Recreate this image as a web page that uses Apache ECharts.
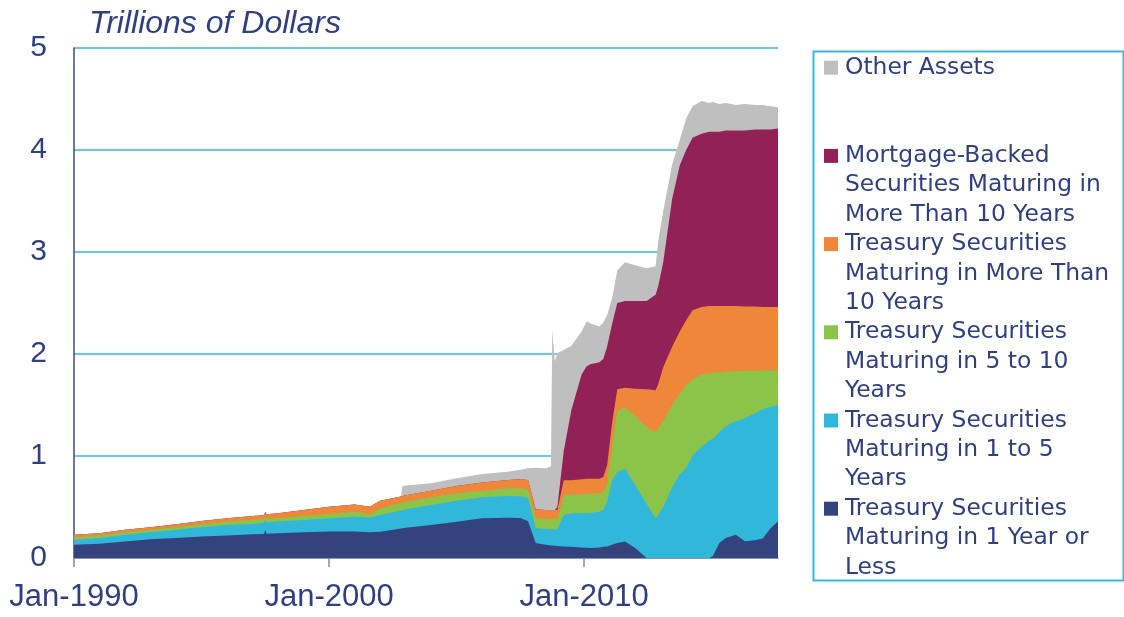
<!DOCTYPE html>
<html>
<head>
<meta charset="utf-8">
<script src="https://cdn.jsdelivr.net/npm/echarts@6/dist/echarts.min.js"></script>
<style>html,body{margin:0;padding:0;background:#fff}#chart{width:1124px;height:617px}</style>
</head>
<body>
<div id="chart"></div>
<script>
// ---- Data (trillions of dollars, decimal years) ----
const dates = [1990.0, 1991.0, 1992.0, 1993.0, 1994.0, 1995.0, 1996.0, 1997.0, 1997.45, 1997.5, 1997.55, 1998.0, 1999.0, 2000.0, 2001.0, 2001.6, 2002.0, 2002.82, 2002.87, 2003.0, 2004.0, 2005.0, 2006.0, 2007.0, 2007.5, 2007.8, 2008.1, 2008.5, 2008.7, 2008.75, 2008.85, 2008.95, 2009.2, 2009.5, 2009.9, 2010.1, 2010.25, 2010.6, 2010.75, 2010.9, 2011.1, 2011.3, 2011.6, 2012.0, 2012.45, 2012.8, 2012.9, 2013.1, 2013.45, 2013.75, 2014.0, 2014.25, 2014.6, 2014.9, 2015.05, 2015.3, 2015.55, 2015.95, 2016.3, 2016.7, 2017.0, 2017.3, 2017.6];

const treasury1YrOrLess = [0.130, 0.139, 0.162, 0.185, 0.195, 0.210, 0.220, 0.233, 0.235, 0.276, 0.238, 0.243, 0.253, 0.259, 0.259, 0.253, 0.258, 0.288, 0.290, 0.296, 0.324, 0.356, 0.389, 0.395, 0.392, 0.360, 0.146, 0.130, 0.123, 0.122, 0.120, 0.118, 0.113, 0.110, 0.104, 0.100, 0.097, 0.104, 0.110, 0.113, 0.130, 0.146, 0.162, 0.097, 0, 0, 0, 0, 0, 0, 0, 0, 0, 0, 0.020, 0.146, 0.195, 0.227, 0.165, 0.175, 0.190, 0.290, 0.360];

const treasury1To5Yr = [0.048, 0.056, 0.065, 0.068, 0.081, 0.092, 0.104, 0.101, 0.110, 0.097, 0.112, 0.114, 0.120, 0.130, 0.146, 0.143, 0.164, 0.178, 0.178, 0.182, 0.196, 0.206, 0.206, 0.213, 0.214, 0.230, 0.146, 0.155, 0.159, 0.160, 0.162, 0.167, 0.308, 0.328, 0.334, 0.340, 0.343, 0.350, 0.360, 0.438, 0.632, 0.697, 0.714, 0.616, 0.530, 0.390, 0.420, 0.500, 0.690, 0.820, 0.880, 1.005, 1.090, 1.150, 1.150, 1.086, 1.100, 1.113, 1.205, 1.245, 1.269, 1.190, 1.140];

const treasury5To10Yr = [0.023, 0.025, 0.026, 0.023, 0.026, 0.029, 0.033, 0.039, 0.035, 0.042, 0.035, 0.032, 0.042, 0.042, 0.049, 0.032, 0.063, 0.072, 0.072, 0.073, 0.075, 0.072, 0.065, 0.075, 0.077, 0.085, 0.097, 0.098, 0.101, 0.101, 0.101, 0.098, 0.195, 0.184, 0.184, 0.190, 0.192, 0.178, 0.179, 0.162, 0.338, 0.597, 0.599, 0.681, 0.750, 0.842, 0.850, 0.840, 0.810, 0.790, 0.810, 0.745, 0.710, 0.660, 0.645, 0.588, 0.530, 0.490, 0.460, 0.415, 0.376, 0.360, 0.340];

const treasuryOver10Yr = [0.026, 0.023, 0.023, 0.026, 0.029, 0.032, 0.032, 0.039, 0.040, 0.039, 0.043, 0.049, 0.055, 0.072, 0.071, 0.075, 0.076, 0.065, 0.066, 0.064, 0.065, 0.072, 0.079, 0.082, 0.089, 0.090, 0.090, 0.087, 0.087, 0.087, 0.087, 0.087, 0.146, 0.140, 0.149, 0.146, 0.146, 0.146, 0.145, 0.195, 0.230, 0.214, 0.195, 0.266, 0.374, 0.413, 0.430, 0.530, 0.570, 0.610, 0.640, 0.680, 0.660, 0.660, 0.655, 0.650, 0.645, 0.640, 0.635, 0.630, 0.625, 0.620, 0.620];

const mbsOver10Yr = [0, 0, 0, 0, 0, 0, 0, 0, 0, 0, 0, 0, 0, 0, 0, 0, 0, 0, 0, 0, 0, 0, 0, 0, 0, 0, 0, 0, 0, 0, 0, 0.030, 0.288, 0.688, 1.029, 1.104, 1.122, 1.142, 1.156, 1.162, 0.970, 0.846, 0.850, 0.860, 0.866, 0.935, 0.960, 1.030, 1.450, 1.630, 1.670, 1.690, 1.700, 1.710, 1.710, 1.710, 1.720, 1.720, 1.725, 1.735, 1.740, 1.740, 1.750];

const otherAssets = [0, 0, 0, 0, 0, 0, 0, 0, 0, 0, 0, 0, 0, 0, 0, 0, 0, 0, 0.095, 0.097, 0.072, 0.076, 0.085, 0.081, 0.093, 0.114, 0.406, 0.410, 0.430, 1.770, 1.460, 1.510, 0.990, 0.630, 0.420, 0.440, 0.400, 0.350, 0.360, 0.310, 0.250, 0.320, 0.380, 0.350, 0.320, 0.280, 0.440, 0.500, 0.340, 0.250, 0.310, 0.310, 0.320, 0.280, 0.290, 0.270, 0.270, 0.250, 0.260, 0.240, 0.240, 0.230, 0.210];

const xTickValues = [1990, 2000, 2010];
const xTickLabels = ['Jan-1990', 'Jan-2000', 'Jan-2010'];
const yTickLabels = ['0', '1', '2', '3', '4', '5'];

const seriesNames = [
  'Treasury Securities Maturing in 1 Year or Less',
  'Treasury Securities Maturing in 1 to 5 Years',
  'Treasury Securities Maturing in 5 to 10 Years',
  'Treasury Securities Maturing in More Than 10 Years',
  'Mortgage-Backed Securities Maturing in More Than 10 Years',
  'Other Assets'
];
const seriesValues = [treasury1YrOrLess, treasury1To5Yr, treasury5To10Yr, treasuryOver10Yr, mbsOver10Yr, otherAssets];
const seriesColors = ['#34437e', '#31b7d9', '#8cc44a', '#ee873a', '#922157', '#bfbfbf'];

// legend text broken into lines as in the original
const legendLines = {
  'Other Assets': ['Other Assets', '', ''],
  'Mortgage-Backed Securities Maturing in More Than 10 Years': ['Mortgage-Backed', 'Securities Maturing in', 'More Than 10 Years'],
  'Treasury Securities Maturing in More Than 10 Years': ['Treasury Securities', 'Maturing in More Than', '10 Years'],
  'Treasury Securities Maturing in 5 to 10 Years': ['Treasury Securities', 'Maturing in 5 to 10', 'Years'],
  'Treasury Securities Maturing in 1 to 5 Years': ['Treasury Securities', 'Maturing in 1 to 5', 'Years'],
  'Treasury Securities Maturing in 1 Year or Less': ['Treasury Securities', 'Maturing in 1 Year or', 'Less']
};

const TEXT = '#2f3f80';
const LH = 29.4;

const rich = {
  g: { width: 7, height: 14, lineHeight: LH },
  ind: { width: 21, height: 14, lineHeight: LH }
};
seriesNames.forEach((n, i) => {
  rich['q' + i] = { width: 14, height: 14, backgroundColor: seriesColors[i], lineHeight: LH };
});

// Stacked layers: each layer is drawn as an area from zero up to the running total,
// upper layers drawn first so lower layers paint over them (same look as a stack).
const running = dates.map(() => 0);
const cumulative = seriesValues.map(vals => vals.map((v, k) => (running[k] = Math.round((running[k] + v) * 1000) / 1000)));

const series = [];
for (let i = seriesNames.length - 1; i >= 0; i--) {
  series.push({
    name: seriesNames[i],
    type: 'line',
    symbol: 'none',
    showSymbol: false,
    smooth: false,
    z: 2 + (seriesNames.length - i),
    color: seriesColors[i],
    lineStyle: { width: 0, color: seriesColors[i] },
    areaStyle: { color: seriesColors[i], opacity: 1, origin: 'start' },
    emphasis: { disabled: true },
    data: dates.map((d, k) => [d, cumulative[i][k]])
  });
}

const chart = echarts.init(document.getElementById('chart'), null, { renderer: 'canvas' });

chart.setOption({
  animation: false,
  backgroundColor: '#ffffff',
  title: {
    text: 'Trillions of Dollars',
    left: 84,
    top: 3,
    textStyle: { fontFamily: 'Liberation Sans', fontStyle: 'italic', fontWeight: 'normal', fontSize: 32, color: TEXT }
  },
  grid: { left: 74, right: 346, top: 48, bottom: 59, outerBoundsMode: 'none', containLabel: false },
  xAxis: {
    type: 'value',
    min: 1990,
    max: 2017.6,
    interval: 10,
    splitLine: { show: false },
    axisLine: { show: true, lineStyle: { color: '#8a8a8a', width: 1.5 } },
    axisTick: { show: true, length: 9, lineStyle: { color: '#8a8a8a', width: 1.5 } },
    axisLabel: {
      showMaxLabel: false,
      margin: 24,
      fontFamily: 'Liberation Sans', fontSize: 31, color: TEXT,
      formatter: v => { const k = xTickValues.indexOf(v); return k >= 0 ? xTickLabels[k] : ''; }
    }
  },
  yAxis: {
    type: 'value',
    min: 0,
    max: 5,
    interval: 1,
    axisLine: { show: true, lineStyle: { color: '#3e4b80', width: 1.5 } },
    axisTick: { show: false },
    splitLine: { show: true, lineStyle: { color: '#35b9de', width: 1.6 } },
    axisLabel: {
      margin: 27,
      fontFamily: 'Liberation Sans', fontSize: 30, color: TEXT,
      formatter: v => yTickLabels[Math.round(v)]
    }
  },
  legend: {
    orient: 'vertical',
    left: 819,
    top: 53,
    padding: 0,
    itemGap: 0,
    itemWidth: 0,
    itemHeight: 14,
    icon: 'none',
    selectedMode: false,
    data: seriesNames.slice().reverse(),
    formatter: name => {
      const i = seriesNames.indexOf(name);
      const l = legendLines[name];
      return '{q' + i + '|}{g|}' + l[0] + '\n{ind|}' + l[1] + '\n{ind|}' + l[2];
    },
    textStyle: { fontFamily: 'DejaVu Sans', fontSize: 23.4, color: TEXT, lineHeight: LH, rich: rich }
  },
  graphic: [{
    type: 'rect',
    left: 811,
    top: 49,
    shape: { width: 310, height: 529 },
    style: { fill: 'none', stroke: '#35b9de', lineWidth: 2 },
    silent: true
  }],
  series: series
});
</script>
</body>
</html>
